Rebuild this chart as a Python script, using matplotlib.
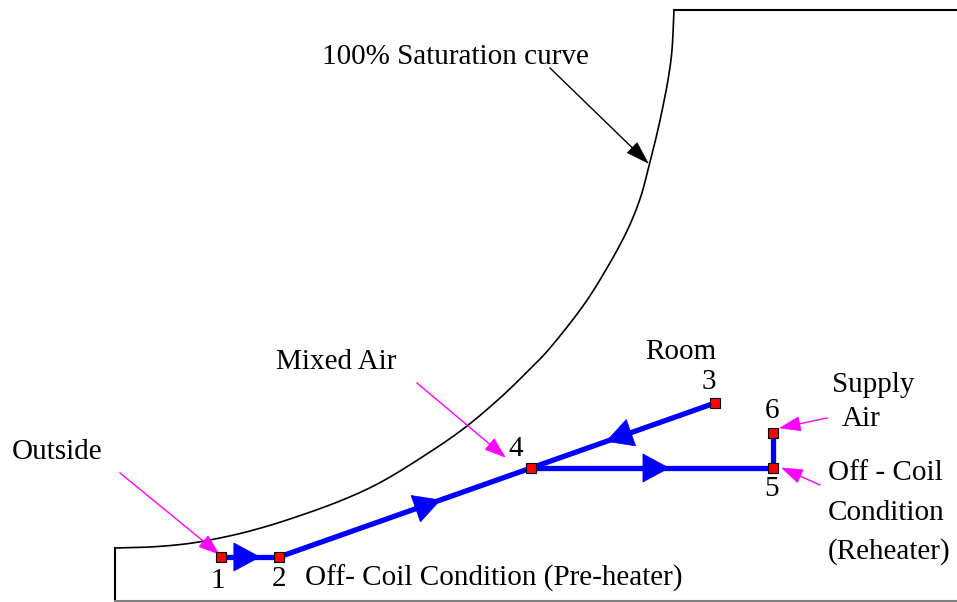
import numpy as np
from matplotlib import pyplot as plt
from matplotlib.patches import Polygon

# diagram drawn in pixel coordinates (y down), 957 x 602
W, H = 957, 602

# saturation curve, then the flat top edge
sat_x = [115, 150, 185, 215, 250, 290, 340, 383, 433, 467, 500, 527, 550, 583, 607, 627, 640, 648, 656, 662, 668, 672, 674]
sat_y = [548, 547, 544, 539, 531, 519, 501, 481, 450, 426, 398, 372, 348, 306, 268, 231, 199, 170, 138, 111, 80, 50, 10]
top_x = [674, 957]
top_y = [10, 10]

# state points
pt_names = ['1', '2', '3', '4', '5', '6']
pt_x = [221, 279, 715, 531, 773, 773]
pt_y = [557, 557, 403, 468, 468, 433]

# process lines (from, to, arrow position along the line; None = no arrow)
paths = [('1', '2', 0.67), ('2', '4', 0.64), ('3', '4', 0.59), ('4', '5', 0.57), ('5', '6', None)]

# number labels
num_pos = {'1': (218, 581), '2': (279, 579), '3': (709, 382), '4': (516, 449),
           '5': (772, 489), '6': (772, 411)}

# callout texts (x left, y centre)
labels = [('100% Saturation curve', 322, 57), ('Mixed Air', 276, 362), ('Outside', 12, 452),
          ('Room', 645, 352), ('Supply', 832, 385), ('Air', 842, 419),
          ('Off - Coil', 828, 473), ('Condition', 828, 513), ('(Reheater)', 828, 552),
          ('Off- Coil Condition (Pre-heater)', 305, 578)]

# leader arrows: start, end, colour
leaders = [((120, 473), (219, 554), '#ff00ff'), ((417, 383), (505, 457), '#ff00ff'),
           ((827, 418), (780, 428), '#ff00ff'), ((820, 485), (782, 468), '#ff00ff'),
           ((550, 68), (648, 163), 'black')]


def smooth(xs, ys, n=12):
    # catmull-rom through the traced points
    p = np.column_stack([xs, ys]).astype(float)
    p = np.vstack([p[0], p, p[-1]])
    out = []
    for i in range(1, len(p) - 2):
        p0, p1, p2, p3 = p[i - 1], p[i], p[i + 1], p[i + 2]
        for t in np.linspace(0, 1, n, endpoint=False):
            out.append(0.5 * (2 * p1 + (p2 - p0) * t + (2 * p0 - 5 * p1 + 4 * p2 - p3) * t ** 2
                              + (3 * p1 - p0 - 3 * p2 + p3) * t ** 3))
    out.append(p[-2])
    out = np.array(out)
    return out[:, 0], out[:, 1]


def head(ax, tip, d, L, hw, color):
    d = np.array(d, float)
    d = d / np.hypot(*d)
    n = np.array([-d[1], d[0]])
    tip = np.array(tip, float)
    base = tip - d * L
    ax.add_patch(Polygon([tip, base + n * hw, base - n * hw], closed=True,
                         fc=color, ec=color, lw=0.5, zorder=5))


fig = plt.figure(figsize=(W / 100, H / 100), dpi=100)
ax = fig.add_axes([0, 0, 1, 1])
ax.set_xlim(0, W)
ax.set_ylim(H, 0)
ax.axis('off')

# frame lines
cx, cy = smooth(sat_x, sat_y)
ax.plot(cx, cy, color='black', lw=1.2, zorder=2)
ax.plot(top_x, top_y, color='black', lw=1.5, zorder=2)
ax.plot([115, 115], [548, 602], color='black', lw=1.5, zorder=2)
ax.plot([115, W], [600.5, 600.5], color='#808080', lw=1.5, zorder=2)

pts = {n: (x, y) for n, x, y in zip(pt_names, pt_x, pt_y)}
for a, b, f in paths:
    (x0, y0), (x1, y1) = pts[a], pts[b]
    ax.plot([x0, x1], [y0, y1], color='#0000ff', lw=3.8, solid_capstyle='butt', zorder=3)
    if f is not None:
        tip = (x0 + f * (x1 - x0), y0 + f * (y1 - y0))
        head(ax, tip, (x1 - x0, y1 - y0), 26, 14, '#0000ff')

ax.plot(pt_x, pt_y, 's', ms=7, mfc='#ff0000', mec='black', mew=0.8, zorder=6, ls='none')

for (x0, y0), (x1, y1), c in leaders:
    L = 20 if c != 'black' else 22
    ax.plot([x0, x1 - (x1 - x0) * 0.1], [y0, y1 - (y1 - y0) * 0.1], color=c, lw=1.0, zorder=4)
    head(ax, (x1, y1), (x1 - x0, y1 - y0), L, 7, c)

font = dict(family='Liberation Serif', fontsize=21, color='black')
for n, (x, y) in num_pos.items():
    ax.text(x, y, n, ha='center', va='center', **font)
for s, x, y in labels:
    ax.text(x, y, s, ha='left', va='center', **font)

fig.savefig('out.png', dpi=100)
